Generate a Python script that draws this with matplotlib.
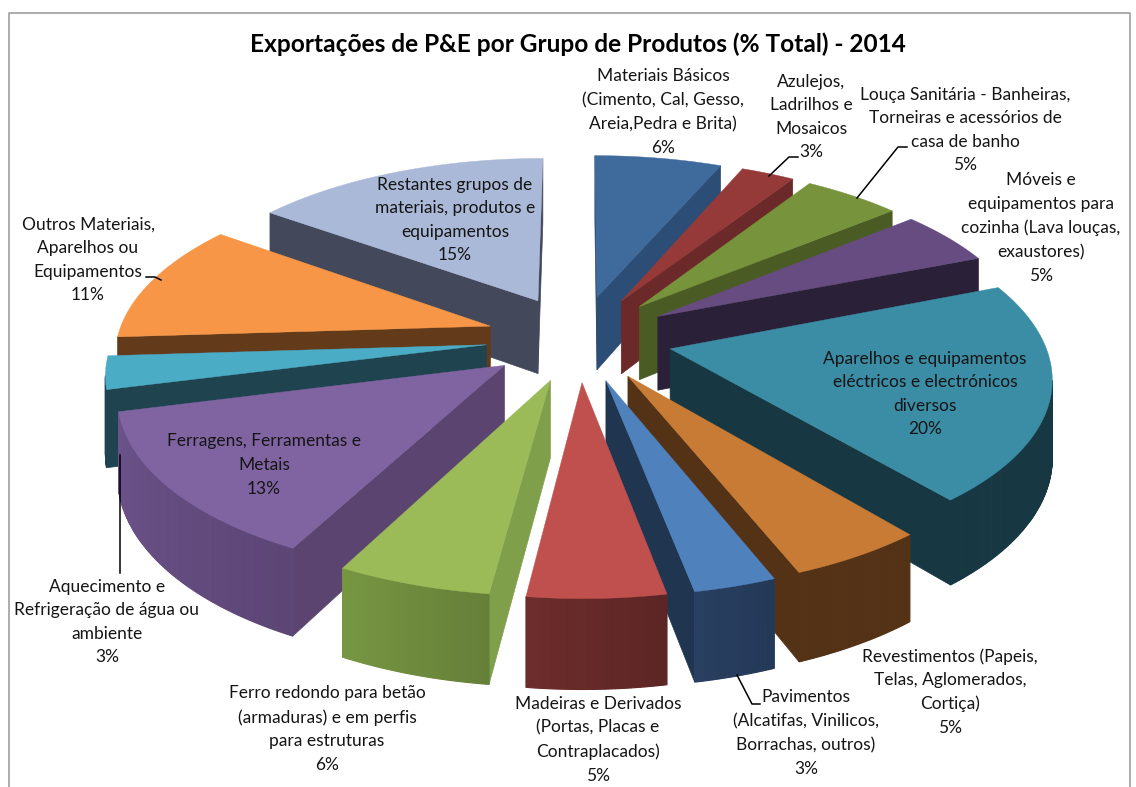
import numpy as np
import matplotlib
matplotlib.use("Agg")
import matplotlib.pyplot as plt
from matplotlib.patches import Polygon

plt.rcParams['font.family'] = ['Lato', 'DejaVu Sans']

title = "Exportações de P&E por Grupo de Produtos (% Total) - 2014"
names = [
    "Materiais Básicos\n(Cimento, Cal, Gesso,\nAreia,Pedra e Brita)",
    "Azulejos,\nLadrilhos e\nMosaicos",
    "Louça Sanitária - Banheiras,\nTorneiras e acessórios de\ncasa de banho",
    "Móveis e\nequipamentos para\ncozinha (Lava louças,\nexaustores)",
    "Aparelhos e equipamentos\neléctricos e electrónicos\ndiversos",
    "Revestimentos (Papeis,\nTelas, Aglomerados,\nCortiça)",
    "Pavimentos\n(Alcatifas, Vinilicos,\nBorrachas, outros)",
    "Madeiras e Derivados\n(Portas, Placas e\nContraplacados)",
    "Ferro redondo para betão\n(armaduras) e em perfis\npara estruturas",
    "Ferragens, Ferramentas e\nMetais",
    "Aquecimento e\nRefrigeração de água ou\nambiente",
    "Outros Materiais,\nAparelhos ou\nEquipamentos",
    "Restantes grupos de\nmateriais, produtos e\nequipamentos",
]
# printed percentages and the unrounded shares
percent = [6, 3, 5, 5, 20, 5, 3, 5, 6, 13, 3, 11, 15]
shares = [6.4, 2.7, 4.9, 5.0, 20.0, 5.0, 3.0, 5.0, 5.6, 13.4, 3.0, 11.0, 15.0]

top_colors = ["#3E6A9C", "#953A39", "#77933C", "#664C80", "#3B8CA5", "#C87B35", "#4F81BD",
              "#C0504D", "#9BBB59", "#8064A2", "#4BACC6", "#F79646", "#AAB9D8"]
wall_colors = ["#2C4D75", "#6B2A29", "#4A5C24", "#2A2038", "#173842", "#533216", "#1F3550",
               "#6B2827", "#7F9F4A", "#5B4570", "#1F4450", "#633B1A", "#43495A"]
rim_colors = ["#2C4D75", "#6B2A29", "#4A5C24", "#2A2038", "#173842", "#533216", "#263C5C",
              "#642928", "#6E8B3D", "#644C80", "#1F4450", "#633B1A", "#43495A"]
rim_fade = [0, 0, 0, 0, 0, 0, 0.1, 0.16, 0.16, 0.16, 0, 0, 0]
label_pos = [(663, 112), (811, 117), (965, 130), (1041, 228), (925, 394), (950, 692), (806, 733),
             (598, 740), (327, 729), (264, 465), (107, 622), (88, 260), (455, 220)]
leaders = [[(798, 157), (789, 157), (769, 176)],
           [(907, 147), (898, 147), (857, 198)],
           [(120, 455), (120, 573)],
           [(146, 277), (155, 277), (161, 280)],
           [(760, 704), (752, 704), (737, 675)]]

# projection of the pie plane, pixels
cx, cy = 579, 338
xscale, yscale = 373, 172
persp = 0.14
height = 75
explode = 0.25


def project(x, y, low=False):
    w = 1 / (1 + persp * y)
    return cx + xscale * x * w, cy - yscale * y * w + (height * w if low else 0)


def area(pts):
    p = np.array(pts)
    return 0.5 * np.sum(p[:, 0] * np.roll(p[:, 1], -1) - np.roll(p[:, 0], -1) * p[:, 1])


fig = plt.figure(figsize=(11.36, 7.87), dpi=100)
ax = fig.add_axes([0, 0, 1, 1])
ax.set_xlim(0, 1136)
ax.set_ylim(787, 0)
ax.axis('off')

ax.plot([9, 9, 1130, 1130], [787, 13, 13, 787], color='#A6A6A6', lw=1.3)

edges = np.cumsum([0] + shares) / sum(shares) * 2 * np.pi
mids = (edges[:-1] + edges[1:]) / 2

# painter order, back to front
for i in np.argsort(-np.cos(mids)):
    ox, oy = explode * np.sin(mids[i]), explode * np.cos(mids[i])
    t = np.linspace(edges[i], edges[i + 1], int(shares[i] * 8) + 4)
    xs = ox + np.sin(t)
    ys = oy + np.cos(t)
    top = [project(ox, oy)] + [project(a, b) for a, b in zip(xs, ys)]

    # radial walls
    for k in (0, -1):
        wall = [project(ox, oy), project(xs[k], ys[k]), project(xs[k], ys[k], True), project(ox, oy, True)]
        if (area(wall) < 0) == (k == 0):
            ax.add_patch(Polygon(wall, closed=True, fc=wall_colors[i], ec=wall_colors[i], lw=0.5))
    # rim, lighter towards the end of the slice on the front ones
    for j in range(len(t) - 1):
        quad = [project(xs[j], ys[j]), project(xs[j + 1], ys[j + 1]),
                project(xs[j + 1], ys[j + 1], True), project(xs[j], ys[j], True)]
        if area(quad) > 0:
            continue
        shade = 1 + rim_fade[i] * (j / (len(t) - 2) - 0.5)
        col = np.clip(np.array(matplotlib.colors.to_rgb(rim_colors[i])) * shade, 0, 1)
        ax.add_patch(Polygon(quad, closed=True, fc=col, ec=col, lw=0.8))
    ax.add_patch(Polygon(top, closed=True, fc=top_colors[i], ec=top_colors[i], lw=0.3))

for seg in leaders:
    ax.plot(*zip(*seg), color='black', lw=1.1)

for name, pct, (lx, ly) in zip(names, percent, label_pos):
    ax.text(lx, ly, f"{name}\n{pct}%", ha='center', va='center', fontsize=12.5,
            linespacing=1.58, color='#151515')

ax.text(578, 44, title, ha='center', va='center', fontsize=17.6, fontweight='bold', color='black')

fig.savefig("out.png", dpi=100)
